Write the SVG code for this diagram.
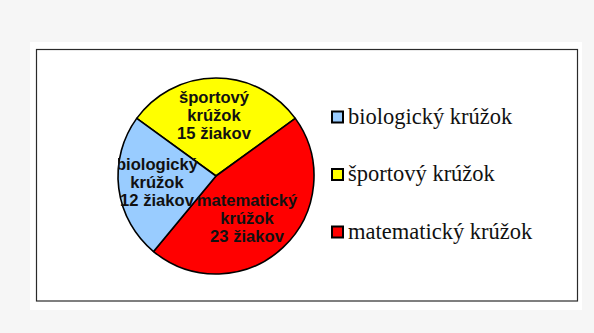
<svg xmlns="http://www.w3.org/2000/svg" width="594" height="333" viewBox="0 0 594 333">
  <defs>
    <style>
      .slice { stroke: #000; stroke-width: 1.6; stroke-linejoin: round; }
      .lbl { font-family: "Liberation Sans", Arial, sans-serif; font-weight: bold; font-size: 16.6px; fill: #111; text-anchor: middle; }
      .leg { font-family: "Liberation Serif", "Times New Roman", serif; font-size: 22.5px; fill: #111; }
      .key { stroke: #000; stroke-width: 2; }
    </style>
    <clipPath id="plotClip">
      <rect x="118" y="60" width="300" height="230"/>
    </clipPath>
  </defs>
  <rect x="0" y="0" width="594" height="333" fill="#f6f6f6"/>
  <rect x="30" y="42" width="552" height="268" fill="#ffffff"/>
  <rect x="36.5" y="49.5" width="541" height="251.5" fill="#ffffff" stroke="#2a2a2a" stroke-width="1.2"/>

  <g id="pie">
    <g id="slice-sport">
      <path class="slice" fill="#FFFF00" d="M216 176 L136.72 118.40 A98 98 0 0 1 295.28 118.40 Z"/>
    </g>
    <g id="slice-math">
      <path class="slice" fill="#FF0000" d="M216 176 L295.28 118.40 A98 98 0 0 1 153.53 251.51 Z"/>
    </g>
    <g id="slice-bio">
      <path class="slice" fill="#99CCFF" d="M216 176 L153.53 251.51 A98 98 0 0 1 136.72 118.40 Z"/>
    </g>
  </g>

  <g id="labels" clip-path="url(#plotClip)">
    <g id="label-sport">
      <text class="lbl" x="214" y="103">športový</text>
      <text class="lbl" x="214" y="121">krúžok</text>
      <text class="lbl" x="214" y="139">15 žiakov</text>
    </g>
    <g id="label-bio">
      <text class="lbl" x="157" y="170">biologický</text>
      <text class="lbl" x="157" y="188">krúžok</text>
      <text class="lbl" x="157" y="206">12 žiakov</text>
    </g>
    <g id="label-math">
      <text class="lbl" x="247" y="206">matematický</text>
      <text class="lbl" x="247" y="224">krúžok</text>
      <text class="lbl" x="247" y="242">23 žiakov</text>
    </g>
  </g>

  <g id="legend">
    <g id="legend-bio">
      <rect class="key" x="332" y="111.5" width="11" height="11" fill="#99CCFF"/>
      <text class="leg" x="348" y="123.5">biologický krúžok</text>
    </g>
    <g id="legend-sport">
      <rect class="key" x="332" y="169" width="11" height="11" fill="#FFFF00"/>
      <text class="leg" x="348" y="181">športový krúžok</text>
    </g>
    <g id="legend-math">
      <rect class="key" x="332" y="226.5" width="11" height="11" fill="#FF0000"/>
      <text class="leg" x="348" y="238.5">matematický krúžok</text>
    </g>
  </g>
</svg>
